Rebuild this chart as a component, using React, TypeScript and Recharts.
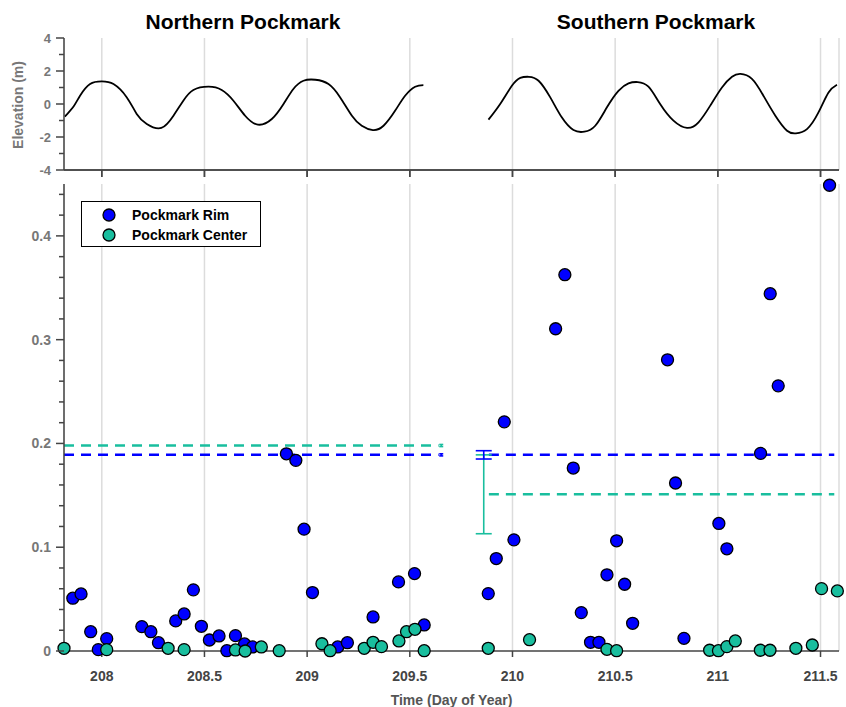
import React from 'react';
import {
  ComposedChart, Line, Scatter, XAxis, YAxis, CartesianGrid, ErrorBar,
} from 'recharts';

const FONT = '"Liberation Sans", Arial, Helvetica, sans-serif';
const RIM = '#0000ff';
const CENTER = '#19be9e';

// axes
const xDomain: [number, number] = [207.816, 211.59];
const xTicks = [208, 208.5, 209, 209.5, 210, 210.5, 211, 211.5];
const elevDomain: [number, number] = [-4, 4];
const elevTicks = [-4, -3, -2, -1, 0, 1, 2, 3, 4];
const valueTicks = [0, 0.02, 0.04, 0.06, 0.08, 0.1, 0.12, 0.14, 0.16, 0.18, 0.2, 0.22, 0.24, 0.26, 0.28, 0.3, 0.32, 0.34, 0.36, 0.38, 0.4, 0.42, 0.44];

// tide elevation (m)
const northTideDay = [207.82, 207.865, 207.894, 207.943, 208.0, 208.057, 208.122, 208.17, 208.219, 208.29, 208.349, 208.397, 208.446, 208.52, 208.584, 208.641, 208.698, 208.76, 208.828, 208.885, 208.933, 208.982, 209.04, 209.104, 209.161, 209.218, 209.266, 209.32, 209.372, 209.429, 209.477, 209.526, 209.566];
const northTideElev = [-0.77, -0.1, 0.5, 1.21, 1.37, 1.21, 0.4, -0.6, -1.21, -1.45, -0.71, 0.2, 0.85, 1.05, 0.85, 0.2, -0.71, -1.25, -0.91, 0.0, 0.91, 1.41, 1.47, 1.21, 0.4, -0.71, -1.32, -1.58, -1.32, -0.4, 0.5, 1.05, 1.15];
const southTideDay = [209.883, 209.94, 209.997, 210.038, 210.08, 210.127, 210.184, 210.24, 210.297, 210.35, 210.403, 210.46, 210.516, 210.565, 210.61, 210.662, 210.719, 210.784, 210.85, 210.906, 210.963, 211.02, 211.069, 211.11, 211.166, 211.222, 211.28, 211.337, 211.38, 211.434, 211.49, 211.539, 211.58];
const southTideElev = [-0.95, 0.0, 1.1, 1.58, 1.65, 1.41, 0.4, -0.81, -1.58, -1.68, -1.32, -0.2, 0.8, 1.25, 1.33, 1.05, 0.0, -1.01, -1.45, -1.11, -0.1, 1.0, 1.65, 1.82, 1.52, 0.5, -0.71, -1.62, -1.78, -1.52, -0.51, 0.7, 1.17];

// pockmark rim samples
const rimDay = [207.859, 207.899, 207.946, 207.983, 208.024, 208.195, 208.239, 208.276, 208.36, 208.401, 208.446, 208.485, 208.524, 208.571, 208.609, 208.651, 208.695, 208.734, 208.899, 208.945, 208.985, 209.026, 209.149, 209.196, 209.321, 209.445, 209.523, 209.57,
  209.882, 209.921, 209.96, 210.007, 210.21, 210.255, 210.296, 210.335, 210.38, 210.421, 210.46, 210.507, 210.546, 210.585, 210.755, 210.794, 210.835, 211.005, 211.044, 211.208, 211.255, 211.294, 211.544];
const rimValue = [0.0509, 0.055, 0.0186, 0.0013, 0.0119, 0.0235, 0.0186, 0.008, 0.029, 0.0357, 0.0589, 0.0238, 0.0106, 0.0145, 0.0003, 0.0148, 0.0068, 0.0039, 0.19, 0.1837, 0.1174, 0.0563, 0.0039, 0.008, 0.0328, 0.0666, 0.0746, 0.0251,
  0.0553, 0.0891, 0.2208, 0.1071, 0.3105, 0.3626, 0.1763, 0.037, 0.0084, 0.0084, 0.0734, 0.1062, 0.0643, 0.0267, 0.2806, 0.1619, 0.0122, 0.1229, 0.0985, 0.1904, 0.3443, 0.2555, 0.4488];

// pockmark center samples
const centerDay = [207.816, 208.024, 208.323, 208.401, 208.651, 208.698, 208.777, 208.864, 209.072, 209.112, 209.278, 209.321, 209.362, 209.447, 209.484, 209.525, 209.57,
  209.882, 210.083, 210.46, 210.507, 210.96, 211.003, 211.044, 211.085, 211.207, 211.254, 211.38, 211.46, 211.505, 211.582];
const centerValue = [0.0026, 0.0013, 0.0026, 0.0013, 0.001, 0.0, 0.0039, 0.0003, 0.007, 0.0003, 0.0026, 0.0084, 0.0042, 0.0097, 0.0186, 0.0209, 0.0003,
  0.0026, 0.0109, 0.0016, 0.0003, 0.0007, 0.0003, 0.0042, 0.0097, 0.0007, 0.0007, 0.0026, 0.0058, 0.0601, 0.0579];

// mean levels and spread
const northSpan = [207.816, 209.64];
const southSpan = [209.885, 211.567];
const northRimMean = 0.189;
const northCenterMean = 0.198;
const southRimMean = 0.189;
const southCenterMean = 0.151;
const northErrDay = 209.653;
const northRimErr = 0.001;
const northCenterErr = 0.001;
const southErrDay = 209.86;
const southRimErr = 0.004;
const southCenterErr = 0.038;

const zip = (xs: number[], ys: number[]) => xs.map((x, i) => ({ x, y: ys[i] }));
const level = (span: number[], y: number) => span.map((x) => ({ x, y }));

const northTide = zip(northTideDay, northTideElev);
const southTide = zip(southTideDay, southTideElev);
const rimData = zip(rimDay, rimValue);
const centerData = zip(centerDay, centerValue);

const AXIS = '#444';
// plot box shared by both panels
const PLOT_LEFT = 64;
const PLOT_RIGHT = 839;
const TOP_BASE = 170;
const dayToPx = (d: number) =>
  PLOT_LEFT + ((d - xDomain[0]) / (xDomain[1] - xDomain[0])) * (PLOT_RIGHT - PLOT_LEFT);

const makeYTick = (isMajor: (v: number) => boolean, fmt: (v: number) => string, fontSize: number) =>
  (props: any) => {
    const { x, y, payload } = props;
    const major = isMajor(payload.value);
    const len = major ? 8 : 5;
    return (
      <g>
        <line x1={x - len} x2={x} y1={y} y2={y} stroke={AXIS} strokeWidth={1.5} />
        {major && (
          <text x={x - len - 5} y={y} textAnchor="end" dominantBaseline="central"
            fill="#777" fontSize={fontSize} fontWeight="bold" fontFamily={FONT}>
            {fmt(payload.value)}
          </text>
        )}
      </g>
    );
  };

const elevTick = makeYTick((v) => v % 2 === 0, (v) => String(v), 13);
const valueTick = makeYTick(
  (v) => Math.abs(v * 10 - Math.round(v * 10)) < 1e-6,
  (v) => (v === 0 ? '0' : v.toFixed(1)),
  14,
);

const dot = (fill: string) => (p: any) => (
  <circle cx={p.cx} cy={p.cy} r={6} fill={fill} stroke="#000" strokeWidth={1.3} />
);

const errBar = (x: number, y: number, err: number, color: string, half: number) => (
  <Scatter data={[{ x, y, err }]} dataKey="y" shape={() => <g />} isAnimationActive={false}>
    <ErrorBar dataKey="err" direction="y" width={half} stroke={color} strokeWidth={1.6} />
  </Scatter>
);

const App: React.FC = () => (
  <div style={{ position: 'absolute', left: 0, top: 0, width: 846, height: 707, background: '#fff', fontFamily: FONT, overflow: 'hidden' }}>
    <div style={{ position: 'absolute', left: 0, top: 0 }}>
      <ComposedChart width={846} height={178} margin={{ top: 38, right: 7, bottom: 0, left: 8 }}>
        <CartesianGrid horizontal={false} stroke="#dcdcdc" strokeWidth={1.5} />
        <XAxis type="number" dataKey="x" domain={xDomain} ticks={xTicks} interval={0}
          height={8} tickSize={7} stroke={AXIS} strokeWidth={1.5} tickFormatter={() => ''} />
        <YAxis type="number" dataKey="y" domain={elevDomain} ticks={elevTicks} width={56} interval={0}
          tickSize={0} tickMargin={0} tickLine={false} stroke={AXIS} strokeWidth={1.5} tick={elevTick} />
        <Line data={northTide} dataKey="y" type="natural" stroke="#000" strokeWidth={1.8} dot={false} isAnimationActive={false} />
        <Line data={southTide} dataKey="y" type="natural" stroke="#000" strokeWidth={1.8} dot={false} isAnimationActive={false} />
      </ComposedChart>
    </div>
    <div style={{ position: 'absolute', left: 0, top: 178 }}>
      <ComposedChart width={846} height={529} margin={{ top: 6, right: 7, bottom: 0, left: 8 }}>
        <CartesianGrid horizontal={false} stroke="#dcdcdc" strokeWidth={1.5} />
        <XAxis type="number" dataKey="x" domain={xDomain} ticks={xTicks} interval={0}
          height={56} tickSize={6} tickMargin={14} stroke={AXIS} strokeWidth={1.5}
          tick={{ fill: '#444', fontSize: 14, fontWeight: 'bold', fontFamily: FONT }}
          label={{ value: 'Time (Day of Year)', position: 'insideBottom', offset: 2, fill: '#555', fontSize: 14, fontWeight: 'bold', fontFamily: FONT }} />
        <YAxis type="number" dataKey="y" domain={[0, 0.45]} ticks={valueTicks} width={56} interval={0}
          tickSize={0} tickMargin={0} tickLine={false} stroke={AXIS} strokeWidth={1.5} tick={valueTick} />
        <Line data={level(northSpan, northCenterMean)} dataKey="y" stroke={CENTER} strokeWidth={2.5} strokeDasharray="10 7" dot={false} isAnimationActive={false} />
        <Line data={level(northSpan, northRimMean)} dataKey="y" stroke={RIM} strokeWidth={2.5} strokeDasharray="10 7" dot={false} isAnimationActive={false} />
        <Line data={level(southSpan, southRimMean)} dataKey="y" stroke={RIM} strokeWidth={2.5} strokeDasharray="10 7" dot={false} isAnimationActive={false} />
        <Line data={level(southSpan, southCenterMean)} dataKey="y" stroke={CENTER} strokeWidth={2.5} strokeDasharray="10 7" dot={false} isAnimationActive={false} />
        {errBar(northErrDay, northCenterMean, northCenterErr, CENTER, 2)}
        {errBar(northErrDay, northRimMean, northRimErr, RIM, 2)}
        {errBar(southErrDay, southCenterMean, southCenterErr, CENTER, 8)}
        {errBar(southErrDay, southRimMean, southRimErr, RIM, 8)}
        <Scatter data={rimData} dataKey="y" shape={dot(RIM)} isAnimationActive={false} />
        <Scatter data={centerData} dataKey="y" shape={dot(CENTER)} isAnimationActive={false} />
      </ComposedChart>
    </div>
    <svg width={846} height={707} style={{ position: 'absolute', left: 0, top: 0, pointerEvents: 'none' }}>
      {/* base line of the tide panel */}
      <line x1={PLOT_LEFT} x2={PLOT_RIGHT} y1={TOP_BASE} y2={TOP_BASE} stroke={AXIS} strokeWidth={1.5} />
      {xTicks.map((t) => (
        <line key={t} x1={dayToPx(t)} x2={dayToPx(t)} y1={TOP_BASE} y2={TOP_BASE + 7} stroke={AXIS} strokeWidth={1.5} />
      ))}
      <text x={243} y={29} textAnchor="middle" fontSize={21} fontWeight="bold" fill="#000" fontFamily={FONT}>Northern Pockmark</text>
      <text x={656} y={29} textAnchor="middle" fontSize={21} fontWeight="bold" fill="#000" fontFamily={FONT}>Southern Pockmark</text>
      <text transform="translate(18,105) rotate(-90)" textAnchor="middle" dominantBaseline="central"
        fontSize={14} fontWeight="bold" fill="#777" fontFamily={FONT}>Elevation (m)</text>
      <rect x={81.5} y={201.5} width={179} height={45} fill="#fff" stroke="#000" strokeWidth={1} />
      <circle cx={109} cy={215} r={6} fill={RIM} stroke="#000" strokeWidth={1.3} />
      <circle cx={109} cy={235} r={6} fill={CENTER} stroke="#000" strokeWidth={1.3} />
      <text x={132} y={220} fontSize={14} fontWeight="bold" fill="#000" fontFamily={FONT}>Pockmark Rim</text>
      <text x={132} y={240} fontSize={14} fontWeight="bold" fill="#000" fontFamily={FONT}>Pockmark Center</text>
    </svg>
  </div>
);

export default App;
